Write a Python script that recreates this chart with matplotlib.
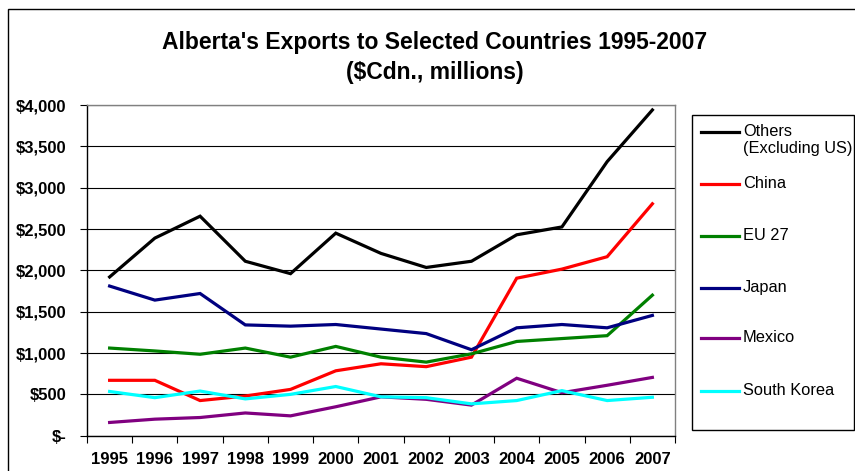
#!/usr/bin/env python3
"""
Alberta's exports to selected countries, 1995-2007 (Excel-style line chart)
"""

import matplotlib
matplotlib.use("Agg")
import matplotlib.pyplot as plt
from matplotlib.lines import Line2D
from matplotlib.patches import Rectangle
import numpy as np

# データ（$Cdn. millions, 図から読み取り）
years = ['1995', '1996', '1997', '1998', '1999', '2000', '2001',
         '2002', '2003', '2004', '2005', '2006', '2007']
others = [1920, 2390, 2655, 2110, 1960, 2450, 2205, 2035, 2110, 2430, 2525, 3315, 3940]
china = [670, 670, 425, 480, 560, 785, 870, 835, 950, 1905, 2015, 2165, 2805]
eu27 = [1060, 1025, 985, 1060, 950, 1080, 950, 890, 990, 1140, 1175, 1210, 1700]
japan = [1810, 1640, 1720, 1340, 1325, 1345, 1290, 1235, 1040, 1305, 1345, 1305, 1455]
mexico = [160, 200, 220, 275, 240, 350, 470, 440, 370, 695, 520, 610, 705]
south_korea = [535, 460, 540, 445, 500, 595, 470, 460, 385, 425, 545, 425, 465]

series_names = ['Others\n(Excluding US)', 'China', 'EU 27', 'Japan', 'Mexico', 'South Korea']
series_values = [others, china, eu27, japan, mexico, south_korea]
series_colors = ['#000000', '#ff0000', '#008000', '#000080', '#800080', '#00ffff']

y_ticks = [0, 500, 1000, 1500, 2000, 2500, 3000, 3500, 4000]
y_tick_labels = ['$-', '$500', '$1,000', '$1,500', '$2,000', '$2,500',
                 '$3,000', '$3,500', '$4,000']

plt.rcParams['font.family'] = ['Liberation Sans', 'DejaVu Sans']

W, H = 855, 471
fig = plt.figure(figsize=(W / 100, H / 100), dpi=100)

# 外枠
fig.patches.append(Rectangle((8 / W, -0.05), 1.0, 1 - 9 / H + 0.05,
                             transform=fig.transFigure, fill=False,
                             edgecolor='black', linewidth=1.0))

# プロット領域
left, right, top, bottom = 87, 675, 105, 435.7
ax = fig.add_axes([left / W, 1 - bottom / H, (right - left) / W, (bottom - top) / H])

x = np.arange(len(years))
for vals, col in zip(series_values, series_colors):
    ax.plot(x, vals, color=col, linewidth=2.3, solid_joinstyle='miter')

ax.set_xlim(-0.5, len(years) - 0.5)
ax.set_ylim(0, 4000)

ax.set_yticks(y_ticks)
ax.set_yticklabels(y_tick_labels, fontsize=12, fontweight='bold')
ax.tick_params(axis='y', length=5, width=0.8, pad=10, direction='out')

ax.set_xticks(x)
ax.set_xticklabels(years, fontsize=12, fontweight='bold')
ax.set_xticks(np.arange(-0.5, len(years)), minor=True)
ax.tick_params(axis='x', which='major', length=0, pad=12)
ax.tick_params(axis='x', which='minor', length=5, width=0.8, direction='out')

ax.grid(True, axis='y', color='black', linewidth=0.8)
ax.set_axisbelow(True)

for side in ['left', 'bottom']:
    ax.spines[side].set_color('black')
    ax.spines[side].set_linewidth(1.0)
for side in ['top', 'right']:
    ax.spines[side].set_color('#808080')
    ax.spines[side].set_linewidth(1.0)

# タイトル
fig.text(435 / W, 1 - 42 / H, "Alberta's Exports to Selected Countries 1995-2007",
         ha='center', va='center', fontsize=16.5, fontweight='bold')
fig.text(435 / W, 1 - 72 / H, "($Cdn., millions)",
         ha='center', va='center', fontsize=16.5, fontweight='bold')

# 凡例（Excel風の枠付き）
fig.patches.append(Rectangle((692 / W, 1 - 430 / H), (854 - 692) / W, (430 - 115) / H,
                             transform=fig.transFigure, fill=False,
                             edgecolor='black', linewidth=1.0))
entry_y = [132, 184, 236, 288, 338, 391]
for name, col, ey in zip(series_names, series_colors, entry_y):
    fig.add_artist(Line2D([701 / W, 739 / W], [1 - ey / H, 1 - ey / H],
                          transform=fig.transFigure, color=col, linewidth=2.3))
    fig.text(743 / W, 1 - (ey - 8) / H, name, ha='left', va='top',
             fontsize=11.8, linespacing=1.15)

plt.savefig('out.png', dpi=100)
plt.close()
